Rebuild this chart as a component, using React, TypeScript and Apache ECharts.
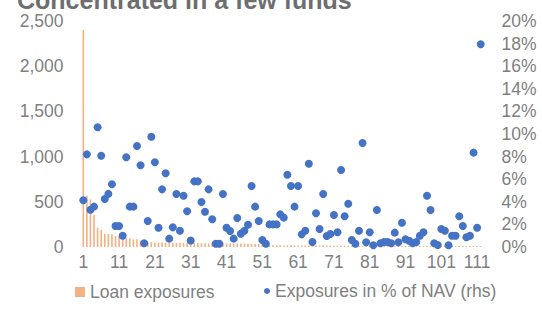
import React, { useEffect, useRef } from "react";
import * as echarts from "echarts";

// Fund ranks (category axis) 1..112
const funds: string[] = Array.from({ length: 112 }, (_, i) => String(i + 1));

// Loan exposures (lhs)
const loanExposures: number[] = [
  2400, 567, 527, 354, 214, 188, 144, 144, 144, 122,
  116, 96, 96, 96, 85, 85, 70, 70, 59, 52,
  50, 50, 50, 48, 48, 47, 46, 45, 45, 44,
  44, 43, 43, 42, 42, 41, 41, 40, 40, 40,
  39, 39, 39, 38, 38, 38, 37, 37, 37, 36,
  36, 20, 20, 19, 19, 19, 18, 18, 18, 18,
  17, 17, 17, 17, 16, 16, 16, 16, 16, 15,
  15, 15, 15, 15, 15, 14, 14, 14, 14, 14,
  14, 14, 13, 13, 13, 13, 13, 13, 13, 13,
  12, 12, 12, 12, 12, 12, 12, 12, 12, 11,
  11, 11, 11, 11, 11, 11, 11, 10, 10, 10,
  10, 10,
];

// Exposures in % of NAV (rhs)
const navShare: number[] = [
  4.13, 8.2, 3.3, 3.57, 10.6, 8.08, 4.25, 4.7, 5.55, 1.86,
  1.86, 1.0, 7.94, 3.57, 3.57, 8.94, 7.23, 0.33, 2.3, 9.76,
  7.5, 1.71, 5.1, 6.52, 0.74, 1.74, 4.69, 1.44, 4.54, 3.16,
  0.57, 5.81, 5.81, 3.98, 3.12, 5.1, 2.45, 0.29, 0.29, 4.69,
  1.71, 1.42, 0.74, 2.57, 1.18, 1.43, 1.97, 5.4, 3.57, 2.3,
  0.62, 0.29, 2.0, 2.0, 2.0, 2.89, 2.6, 6.4, 5.4, 3.57,
  5.4, 1.12, 1.44, 7.37, 0.44, 2.98, 1.59, 4.69, 0.97, 1.15,
  2.83, 1.3, 6.81, 2.72, 3.83, 0.62, 0.29, 1.44, 9.2, 0.42,
  1.3, 0.15, 3.27, 0.33, 0.44, 0.44, 0.33, 1.27, 0.42, 2.15,
  0.68, 0.56, 0.33, 0.44, 1.0, 1.3, 4.54, 3.27, 0.33, 0.18,
  1.59, 1.44, 0.15, 1.0, 1.0, 2.72, 1.86, 0.86, 1.0, 8.35,
  1.71, 17.94,
];

const seriesNames = ["Loan exposures", "Exposures in % of NAV (rhs)"];
const titleText = "Concentrated in a few funds";

const FONT = '"Liberation Sans", Arial, sans-serif';
const GREY = "#7f7f7f";
const ORANGE = "#F4B183";
const BLUE = "#4472C4";

export default function App() {
  const ref = useRef<HTMLDivElement>(null);
  useEffect(() => {
    if (!ref.current) return;
    const chart = echarts.init(ref.current, null, { renderer: "svg" });
    chart.setOption({
      animation: false,
      backgroundColor: "#ffffff",
      textStyle: { fontFamily: FONT },
      grid: { left: 81.5, right: 59.5, top: 21, bottom: 62, containLabel: false },
      graphic: [
        {
          type: "text",
          left: 17,
          top: -13,
          z: 0,
          style: {
            text: titleText,
            font: `bold 25px ${FONT}`,
            fill: "#6e6e6e",
          },
        },
      ],
      legend: [
        {
          data: [{ name: seriesNames[0], icon: "rect" }],
          left: 70,
          top: 278,
          itemWidth: 10,
          itemHeight: 10,
          textStyle: { color: GREY, fontSize: 17.5, fontFamily: FONT },
          selectedMode: false,
        },
        {
          data: [{ name: seriesNames[1], icon: "circle" }],
          left: 259,
          top: 277,
          itemWidth: 6,
          itemHeight: 6,
          textStyle: { color: GREY, fontSize: 17.5, fontFamily: FONT },
          selectedMode: false,
        },
      ],
      xAxis: {
        type: "category",
        data: funds,
        boundaryGap: true,
        axisLine: { show: false },
        axisTick: { show: false },
        splitLine: { show: false },
        axisLabel: {
          interval: 9,
          color: GREY,
          fontSize: 17.5,
          fontFamily: FONT,
          margin: 6,
        },
      },
      yAxis: [
        {
          type: "value",
          min: 0,
          max: 2500,
          interval: 500,
          axisLine: { show: false },
          axisTick: { show: false },
          splitLine: { show: false },
          axisLabel: {
            color: GREY,
            fontSize: 17.5,
            fontFamily: FONT,
            margin: 18,
            formatter: (v: number) => v.toLocaleString("en-US"),
          },
        },
        {
          type: "value",
          position: "right",
          min: 0,
          max: 20,
          interval: 2,
          axisLine: { show: false },
          axisTick: { show: false },
          splitLine: { show: false },
          axisLabel: {
            color: GREY,
            fontSize: 17.5,
            fontFamily: FONT,
            margin: 19,
            formatter: "{value}%",
          },
        },
      ],
      series: [
        {
          name: seriesNames[0],
          type: "bar",
          yAxisIndex: 0,
          data: loanExposures,
          barWidth: "45%",
          itemStyle: { color: ORANGE },
          z: 1,
        },
        {
          name: seriesNames[1],
          type: "scatter",
          yAxisIndex: 1,
          data: navShare,
          symbol: "circle",
          symbolSize: 8,
          itemStyle: { color: BLUE, opacity: 1 },
          z: 3,
        },
      ],
    });
    return () => chart.dispose();
  }, []);
  return (
    <div
      ref={ref}
      style={{ position: "fixed", left: 0, top: 0, width: 542, height: 309, background: "#fff" }}
    />
  );
}
